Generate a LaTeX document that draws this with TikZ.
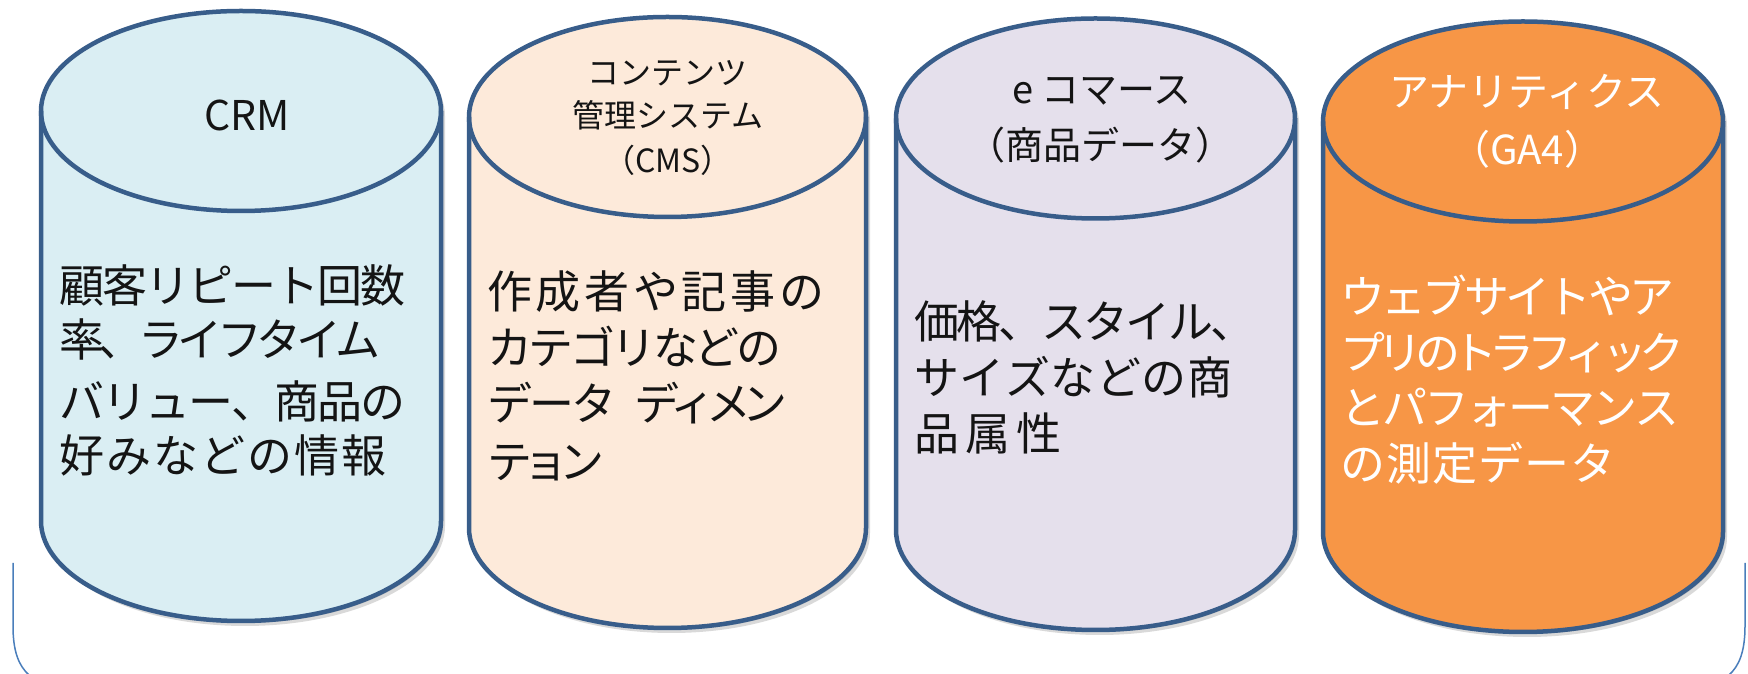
\documentclass[tikz,border=0pt]{standalone}
\usepackage{fontspec}
\newfontfamily\jp{Noto Sans CJK JP}
\definecolor{edge}{RGB}{56,93,138}
\definecolor{crmfill}{RGB}{218,238,243}
\definecolor{cmsfill}{RGB}{253,234,218}
\definecolor{ecofill}{RGB}{229,224,236}
\definecolor{gafill}{RGB}{247,150,70}
\definecolor{bracec}{RGB}{74,126,187}
\definecolor{ink}{RGB}{20,20,20}
\newlength\prpitch
\def\prend{}
\def\prloop#1{\ifx#1\prend\else\makebox[\prpitch][l]{#1}\expandafter\prloop\fi}
\newcommand\pr[2]{\setlength\prpitch{#1pt}\prloop#2\prend}
% #1 centre x, #2 x radius, #3 top centre y, #4 bottom centre y, #5 fill
\newcommand\drawcyl[5]{%
  \fill[black,opacity=.12,xshift=2pt,yshift=-2pt] ({#1-#2},#3) -- ({#1-#2},#4) arc[start angle=180,end angle=360,x radius=#2pt,y radius=100pt] -- ({#1+#2},#3) arc[start angle=0,end angle=180,x radius=#2pt,y radius=100pt] -- cycle;
  \fill[black,opacity=.15,xshift=4pt,yshift=-5pt] ({#1-#2},#3) -- ({#1-#2},#4) arc[start angle=180,end angle=360,x radius=#2pt,y radius=100pt] -- ({#1+#2},#3) arc[start angle=0,end angle=180,x radius=#2pt,y radius=100pt] -- cycle;
  \fill[#5] ({#1-#2},#3) -- ({#1-#2},#4) arc[start angle=180,end angle=360,x radius=#2pt,y radius=100pt] -- ({#1+#2},#3) arc[start angle=0,end angle=180,x radius=#2pt,y radius=100pt] -- cycle;
  \draw[cylline] ({#1-#2},#3) -- ({#1-#2},#4) arc[start angle=180,end angle=360,x radius=#2pt,y radius=100pt] -- ({#1+#2},#3);
  \draw[cylline] (#1,#3) ellipse[x radius=#2pt,y radius=100pt];
}
\tikzset{
  cylline/.style={draw=edge,line width=4.5pt,line join=round},
  body/.style={anchor=base west,inner sep=0pt,text=ink,font=\jp\fontsize{45}{52}\selectfont},
  lab/.style={anchor=base,inner sep=0pt,text=ink},
  bracket/.style={draw=bracec,line width=1.5pt},
}
\begin{document}
\begin{tikzpicture}[x=1pt,y=1pt]
\useasboundingbox (0,0) rectangle (1748,674);
\fill[white] (0,0) rectangle (1748,674);

% bracket lines
\coordinate (bla) at (13,111);
\coordinate (blb) at (13,48);
\coordinate (blc) at (29,-1);
\coordinate (bra) at (1745,111);
\coordinate (brb) at (1745,48);
\coordinate (brc) at (1729,-1);
\draw[bracket] (bla) -- (blb) .. controls (13,22) and (19,8) .. (blc);
\draw[bracket] (bra) -- (brb) .. controls (1745,22) and (1739,8) .. (brc);

% cylinders
\drawcyl{241}{200}{563}{153}{crmfill}
\drawcyl{667.5}{198.5}{557}{146}{cmsfill}
\drawcyl{1095.5}{199.5}{555.5}{144}{ecofill}
\drawcyl{1523}{200}{552.5}{142}{gafill}

% CRM
\node[lab,font=\jp\fontsize{41}{48}\selectfont] (crmt) at (247,543) {CRM};
\node[body] (crm1) at (59,371) {\pr{43}{顧客リピート回数}};
\node[body] (crm2) at (59,317) {\pr{39.5}{率、ライフタイム}};
\node[body] (crm3) at (59,255) {\pr{43}{バリュー、商品の}};
\node[body] (crm4) at (59,201) {\pr{47}{好みなどの情報}};

% CMS
\node[lab,font=\jp\fontsize{32}{38}\selectfont] (cmst1) at (667,589) {コンテンツ};
\node[lab,font=\jp\fontsize{32}{38}\selectfont] (cmst2) at (668,546) {管理システム};
\node[lab,font=\jp\fontsize{32}{38}\selectfont] (cmst3) at (668,501) {（CMS）};
\node[body] (cms1) at (487,365) {\pr{48.7}{作成者や記事の}};
\node[body] (cms2) at (487,309) {\pr{41.5}{カテゴリなどの}};
\node[body] (cms3) at (487,253) {\pr{42}{データ}\hspace{21pt}\pr{36}{ディメン}};
\node[body] (cms4) at (487,195) {\pr{36}{テョン}};

% e-commerce
\node[lab,font=\jp\fontsize{38}{45}\selectfont] (ecot1) at (1102,570) {e コマース};
\node[lab,font=\jp\fontsize{38}{45}\selectfont] (ecot2) at (1100,514) {（商品データ）};
\node[body] (eco1) at (914,335) {\pr{42.3}{価格、スタイル、}};
\node[body] (eco2) at (914,279) {\pr{45.5}{サイズなどの商}};
\node[body] (eco3) at (914,223) {\pr{51}{品属性}};

% GA4
\node[lab,text=white,font=\jp\fontsize{40}{47}\selectfont] (gat1) at (1527,567) {アナリティクス};
\node[lab,text=white,font=\jp\fontsize{40}{47}\selectfont] (gat2) at (1527,509) {（GA4）};
\node[body,text=white] (ga1) at (1340,360) {\pr{41.3}{ウェブサイトやア}};
\node[body,text=white] (ga2) at (1340,304) {\pr{37.4}{プリのトラフィック}};
\node[body,text=white] (ga3) at (1340,249) {\pr{42}{とパフォーマンス}};
\node[body,text=white] (ga4) at (1340,193) {\pr{46}{の測定データ}};
\end{tikzpicture}
\end{document}
